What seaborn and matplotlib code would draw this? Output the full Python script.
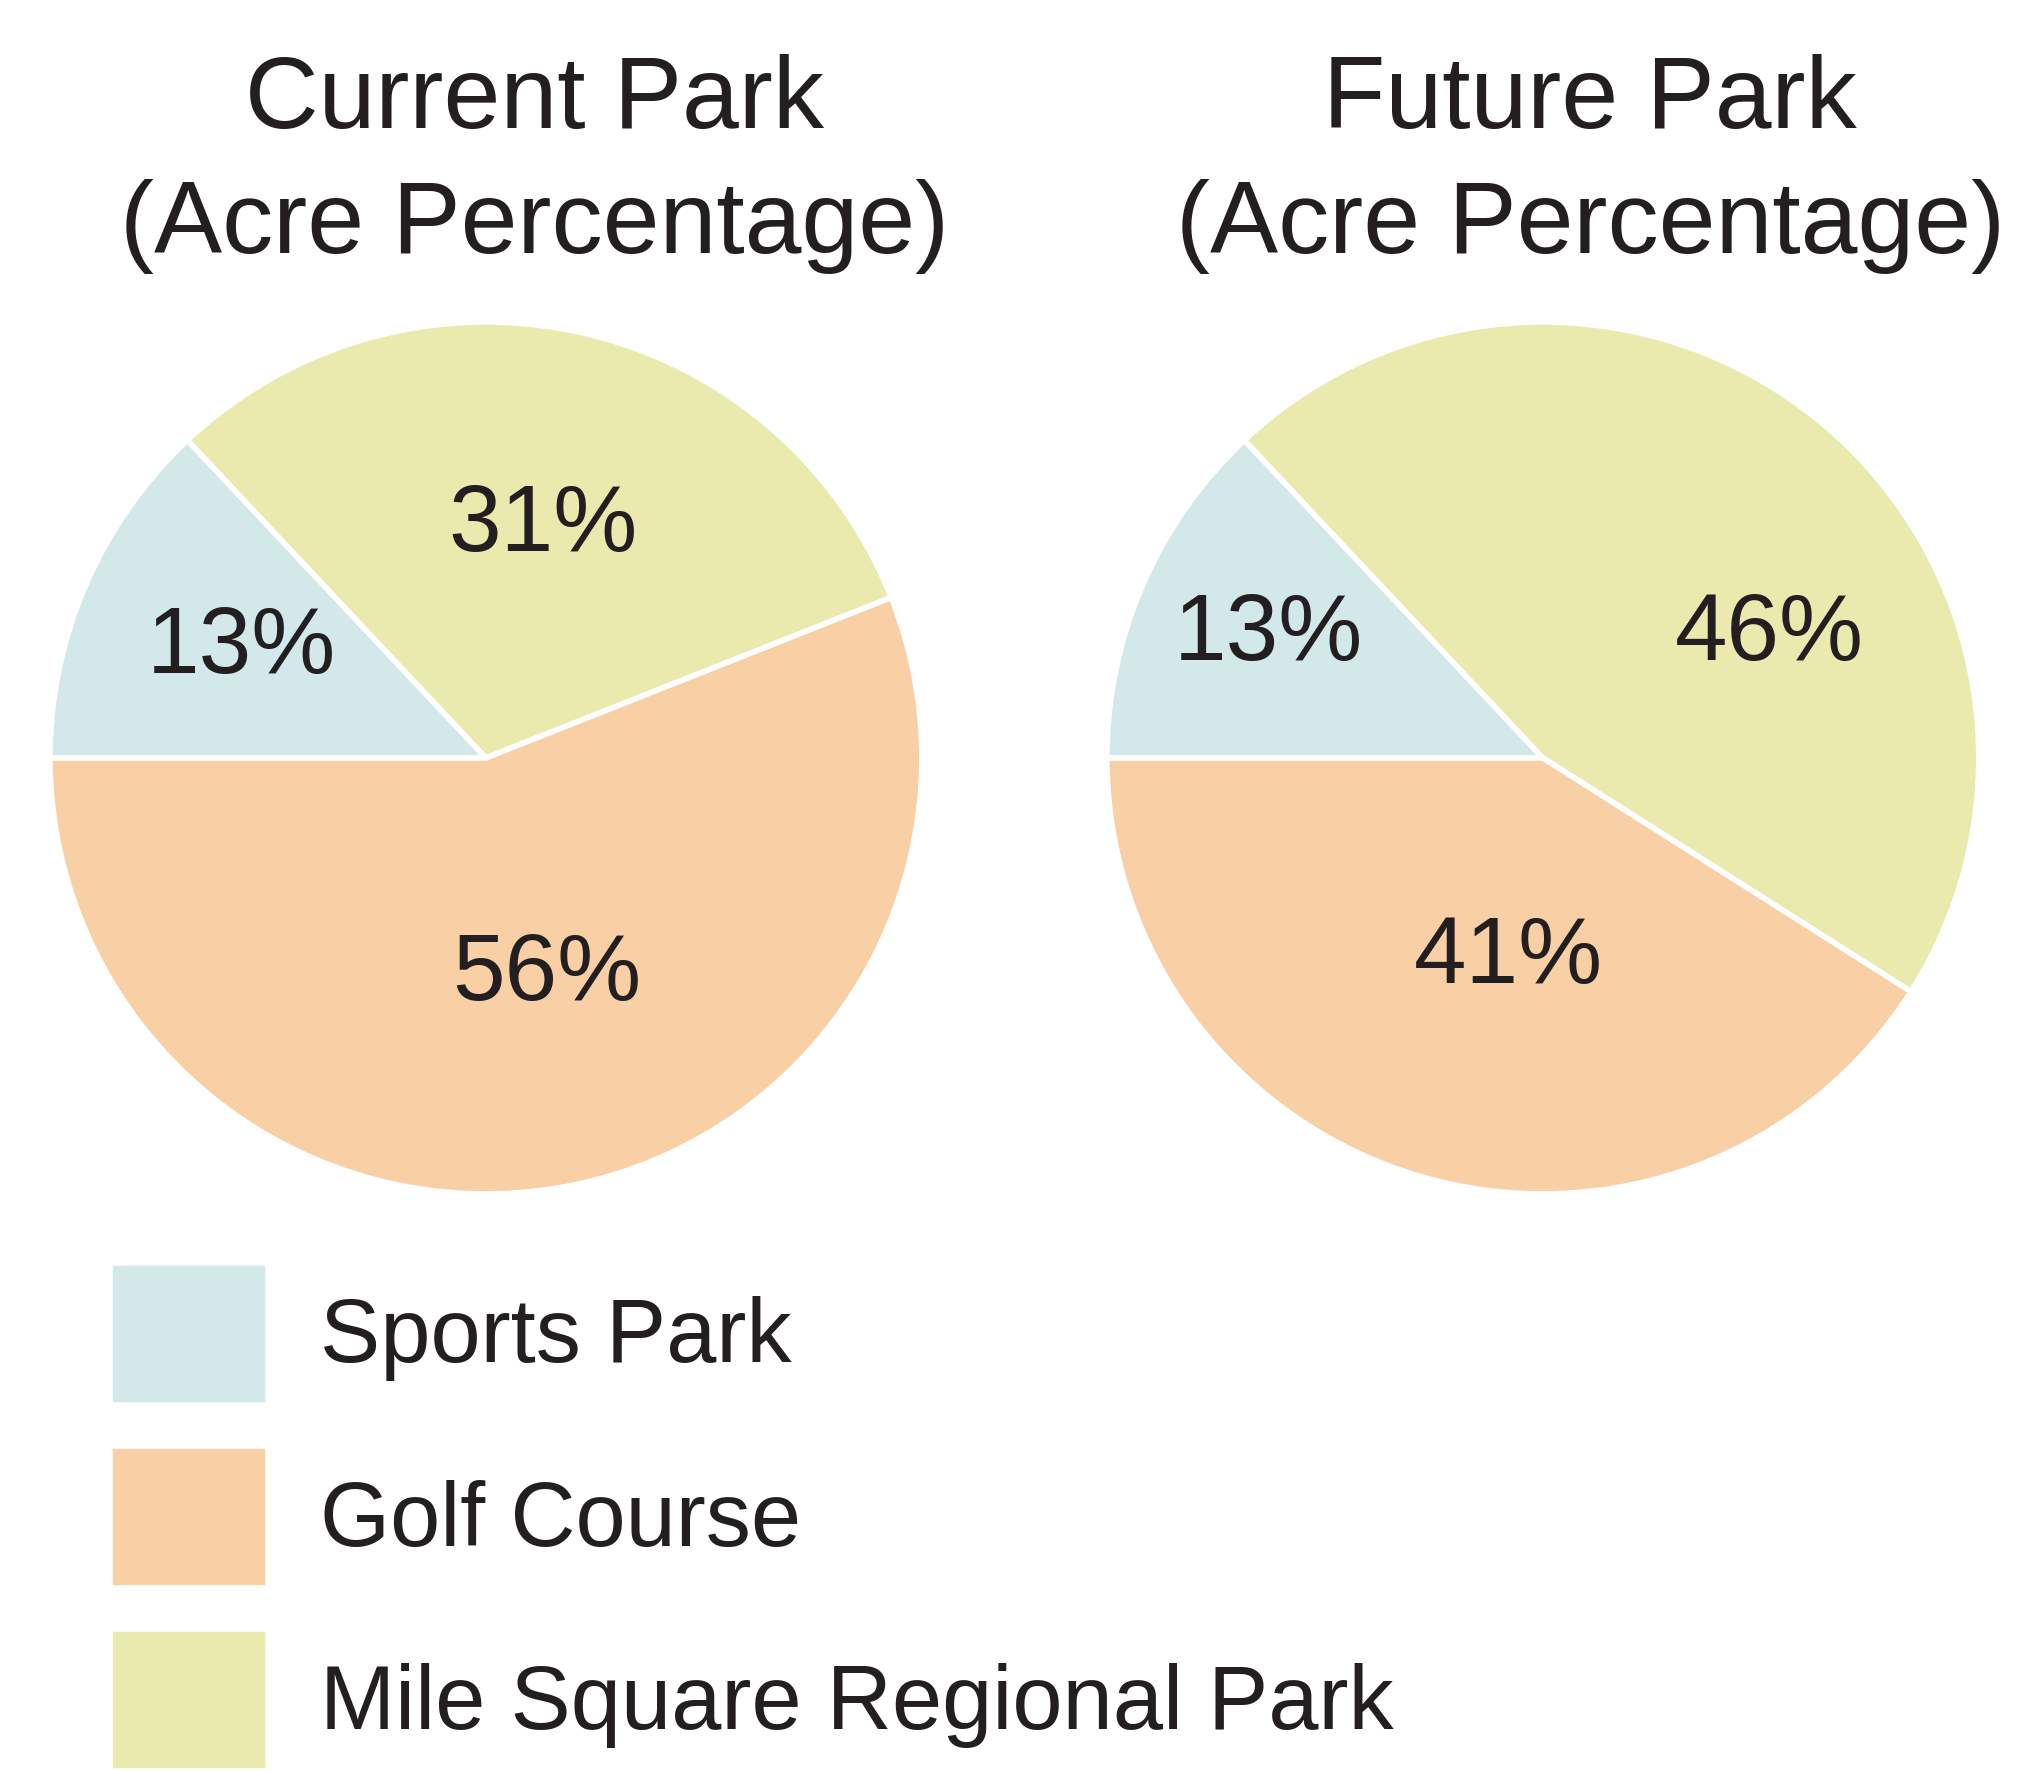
import seaborn as sns
import matplotlib.pyplot as plt
import numpy as np

# data
categories = ['Sports Park', 'Mile Square Regional Park', 'Golf Course']
current_pct = [13, 31, 56]
future_pct = [13, 46, 41]
titles = ['Current Park\n(Acre Percentage)', 'Future Park\n(Acre Percentage)']
legend_order = ['Sports Park', 'Golf Course', 'Mile Square Regional Park']

colors = {'Sports Park': '#d3e8e8', 'Golf Course': '#f9d0a5',
          'Mile Square Regional Park': '#eaeaaf'}
text_color = '#231f20'

sns.set_theme(style='white')
plt.rcParams['font.family'] = ['Liberation Sans', 'DejaVu Sans']

fig = plt.figure(figsize=(20.31, 17.71), dpi=100)

# label spots inside each pie (radius units)
label_xy = [
    [(-0.56, 0.25), (0.13, 0.53), (0.14, -0.50)],
    [(-0.63, 0.28), (0.52, 0.28), (-0.08, -0.46)],
]
axes_boxes = [[0.0246, 0.3258, 0.4293, 0.4924], [0.5450, 0.3258, 0.4293, 0.4924]]
title_x = [0.263, 0.783]

wedge_map = {}
for i, vals in enumerate([current_pct, future_pct]):
    ax = fig.add_axes(axes_boxes[i])
    wedges, _ = ax.pie(vals, colors=[colors[c] for c in categories],
                       startangle=180, counterclock=False,
                       wedgeprops={'edgecolor': 'white', 'linewidth': 4})
    for w, c in zip(wedges, categories):
        wedge_map[c] = w
    for (x, y), v in zip(label_xy[i], vals):
        ax.text(x, y, f'{v}%', ha='center', va='center', fontsize=68,
                color=text_color)
    ax.set_xlim(-1, 1)
    ax.set_ylim(-1, 1)
    ax.set_aspect('equal')
    fig.text(title_x[i], 0.9075, titles[i], ha='center', va='center',
             fontsize=73.5, color=text_color, linespacing=1.41)

fig.legend([wedge_map[c] for c in legend_order], legend_order,
           loc='upper left', bbox_to_anchor=(0.054, 0.287), frameon=False,
           fontsize=65, handlelength=1.75, handleheight=2.05,
           labelspacing=0.45, handletextpad=0.58, borderpad=0,
           borderaxespad=0, labelcolor=text_color)

plt.savefig('out.png', dpi=100)
